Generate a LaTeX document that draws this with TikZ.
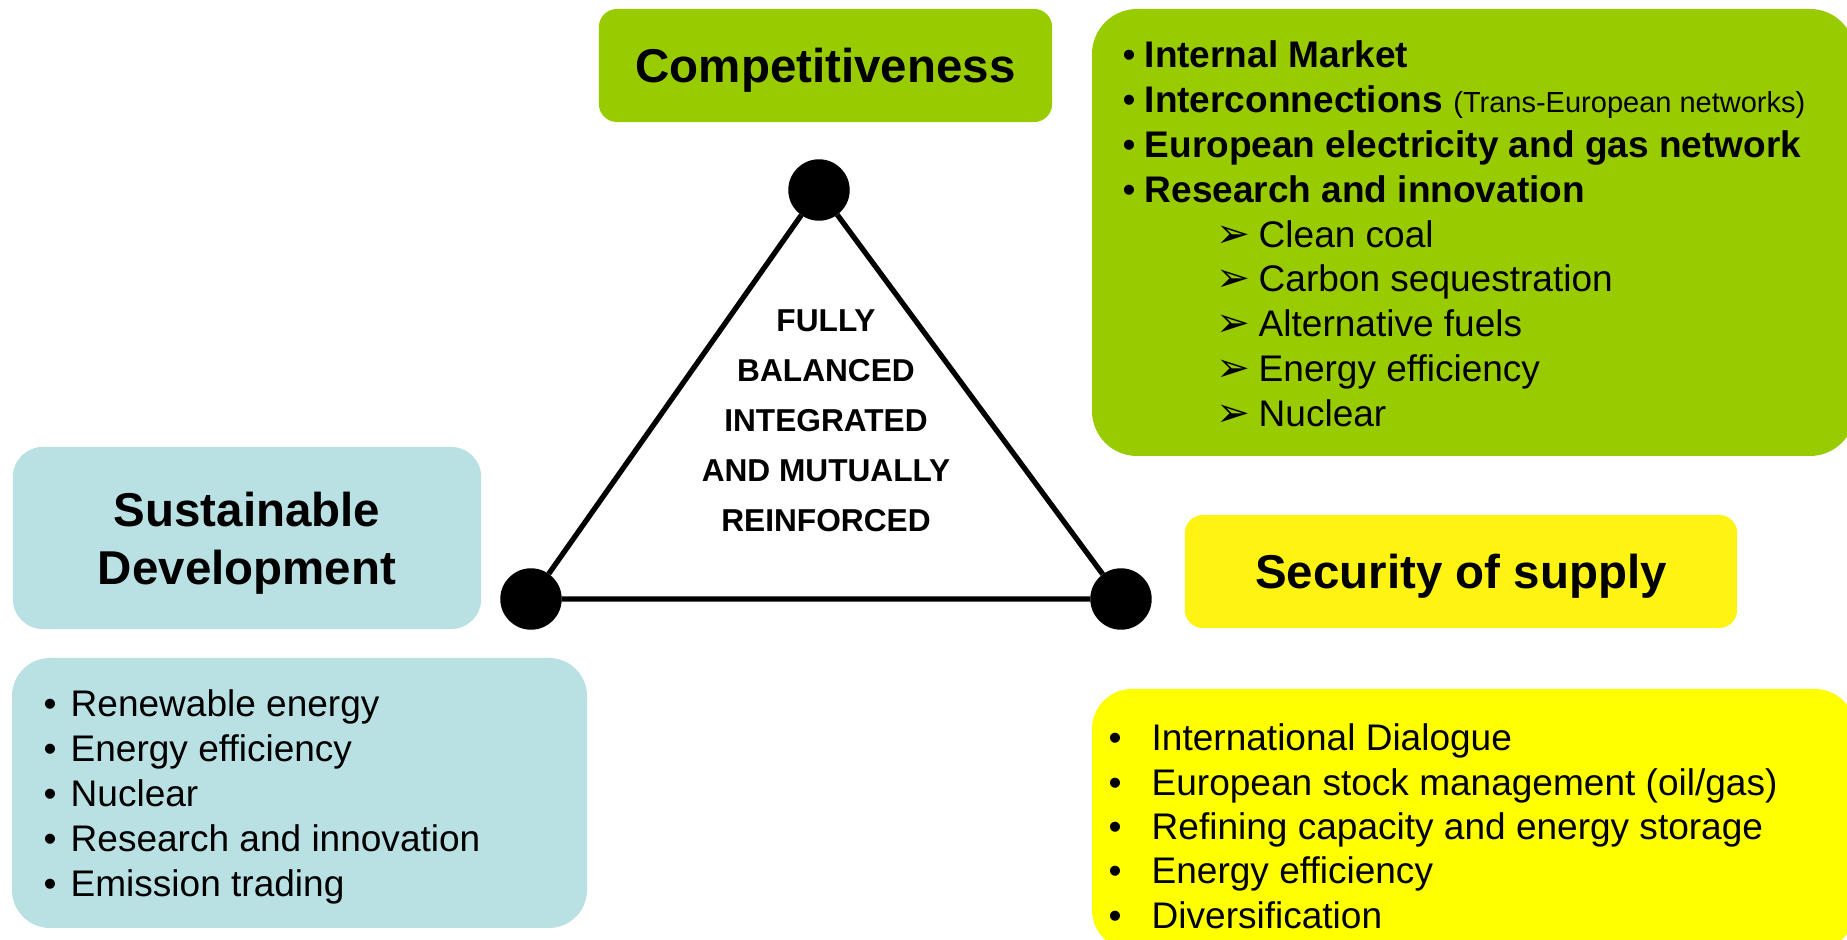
\documentclass[tikz,border=0pt]{standalone}
\usepackage{fontspec}
\setmainfont{Liberation Sans}
\newfontfamily\symfont{DejaVu Sans}
\usetikzlibrary{calc}
\definecolor{cgreen}{HTML}{99CC00}
\definecolor{cblue}{HTML}{B9E0E3}
\definecolor{cyellow}{HTML}{FFFF00}
\definecolor{csupply}{HTML}{FFF314}
\tikzset{%
  hbox/.style={shape=rectangle,rounded corners=0.18cm,inner sep=0,align=center,
    font=\fontsize{13.5}{16.5}\selectfont\bfseries,text depth=0pt},
  vdot/.style={draw,shape=circle,fill=black,inner sep=0,minimum size=0.6cm},
  tedge/.style={draw=black,line width=1.5pt},
  litem/.style={anchor=base west,inner sep=0,font=\fontsize{10.53}{12.75}\selectfont}
}
\newcommand{\gbul}{\makebox[0.22cm][l]{\textbullet}}
\newcommand{\bbul}{\makebox[0.27cm][l]{\textbullet}}
\newcommand{\ybul}{\makebox[0.43cm][l]{\textbullet}}
\newcommand{\garr}{\makebox[0.42cm][l]{\symfont\fontsize{11.5}{11.5}\selectfont ➢}}
\begin{document}
\begin{tikzpicture}[x=0.01cm,y=-0.01cm]
    \useasboundingbox (0,0) rectangle (1847,940);
    % list panels
    \fill[cgreen,rounded corners=0.45cm] (1092,9) rectangle (1855,456);
    \fill[cblue,rounded corners=0.38cm] (12,658) rectangle (587,928);
    \fill[cyellow,rounded corners=0.4cm] (1092,689) rectangle (1855,950);
    % headings
    \node[hbox,fill=cgreen,minimum width=4.53cm,minimum height=1.13cm] (comp) at (825.5,65.5) {Competitiveness};
    \node[hbox,fill=cblue,rounded corners=0.3cm,minimum width=4.68cm,minimum height=1.82cm] (sust) at (247,538) {Sustainable\\Development};
    \node[hbox,fill=csupply,minimum width=5.52cm,minimum height=1.13cm] (supp) at (1461,571.5) {Security of supply};
    % triangle
    \path
      (819,190) node[vdot] (vtop) {}
      (531,599) node[vdot] (vleft) {}
      (1121,599) node[vdot] (vright) {};
    \draw[tedge] (vtop) -- (vleft) -- (vright) -- (vtop);
    \node[inner sep=0,align=center,font=\fontsize{9}{14.2}\selectfont\bfseries] (core) at (826,420.5)
      {FULLY\\BALANCED\\INTEGRATED\\AND MUTUALLY\\REINFORCED};
    % green list
    \foreach \txt [count=\i from 0] in {%
      {\gbul\textbf{Internal Market}},
      {\gbul\textbf{Interconnections} {\fontsize{8.25}{10}\selectfont(Trans-European networks)}},
      {\gbul\textbf{European electricity and gas network}},
      {\gbul\textbf{Research and innovation}}}
      \node[litem] (grn-\i) at (1122,68+44.8*\i) {\txt};
    \foreach \txt [count=\i from 4] in {Clean coal,Carbon sequestration,Alternative fuels,Energy efficiency,Nuclear}
      \node[litem] (grn-\i) at (1216,68+44.8*\i) {\garr\txt};
    % blue list
    \foreach \txt [count=\i from 0] in {Renewable energy,Energy efficiency,Nuclear,Research and innovation,Emission trading}
      \node[litem] (blu-\i) at (43,717+44.8*\i) {\bbul\txt};
    % yellow list
    \foreach \txt [count=\i from 0] in {International Dialogue,European stock management (oil/gas),Refining capacity and energy storage,Energy efficiency,Diversification}
      \node[litem] (yel-\i) at (1108,751+44.3*\i) {\ybul\txt};
\end{tikzpicture}
\end{document}
